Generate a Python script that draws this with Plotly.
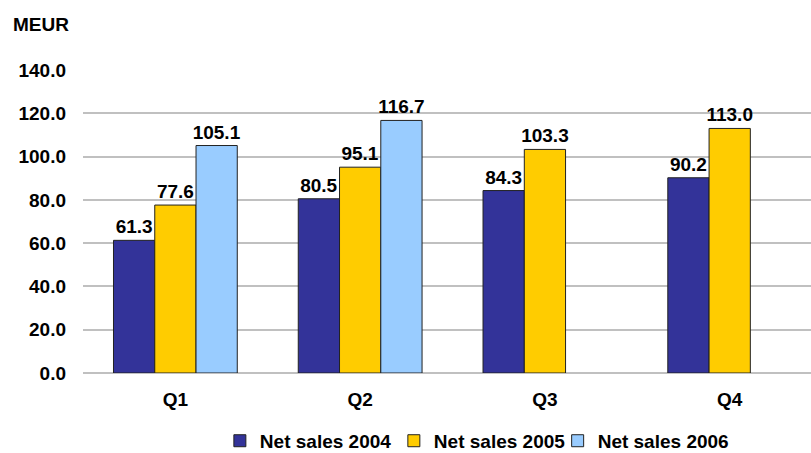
import plotly.graph_objects as go

quarters = ["Q1", "Q2", "Q3", "Q4"]
sales_2004 = [61.3, 80.5, 84.3, 90.2]
sales_2005 = [77.6, 95.1, 103.3, 113.0]
sales_2006 = [105.1, 116.7, None, None]
y_ticks = [0, 20, 40, 60, 80, 100, 120, 140]

series = [
    ("Net sales 2004", sales_2004, "#333399"),
    ("Net sales 2005", sales_2005, "#FFCC00"),
    ("Net sales 2006", sales_2006, "#99CCFF"),
]

FONT = "Liberation Sans, Arial, sans-serif"
SIZE = 19

# one legend per series so the entries sit side by side at fixed spots
legend_ids = ["legend", "legend2", "legend3"]
legend_x = [0.188, 0.427, 0.652]

fig = go.Figure()
for (name, values, color), lid in zip(series, legend_ids):
    fig.add_trace(go.Bar(
        x=quarters,
        y=values,
        name=name,
        legend=lid,
        marker=dict(color=color, line=dict(color="#222222", width=1)),
        text=[f"{v:.1f}" if v is not None else "" for v in values],
        textposition="outside",
        constraintext="none",
        textfont=dict(family=FONT, size=SIZE, color="black", weight="bold"),
        cliponaxis=False,
    ))

legend_style = dict(
    orientation="h",
    xref="paper", yref="paper",
    xanchor="left",
    y=-0.224, yanchor="middle",
    font=dict(family=FONT, size=SIZE, color="black", weight="bold"),
    itemwidth=30,
    bgcolor="rgba(0,0,0,0)",
)
legends = {lid: dict(legend_style, x=lx) for lid, lx in zip(legend_ids, legend_x)}

fig.update_layout(
    width=811,
    height=453,
    margin=dict(l=83, r=0, t=70, b=80, autoexpand=False),
    paper_bgcolor="white",
    plot_bgcolor="white",
    barmode="group",
    bargap=0.33,
    bargroupgap=0,
    font=dict(family=FONT, size=SIZE, color="black", weight="bold"),
    showlegend=True,
    **legends,
    xaxis=dict(
        range=[-0.5, 3.44],
        showgrid=False,
        showline=False,
        ticks="",
        tickfont=dict(family=FONT, size=SIZE, weight="bold"),
        ticklabelstandoff=13,
    ),
    yaxis=dict(
        range=[0, 140],
        tickvals=y_ticks,
        ticktext=[f"{v:.1f}" for v in y_ticks],
        showgrid=True,
        gridcolor="#C0C0C0",
        gridwidth=2,
        zeroline=True,
        zerolinecolor="#C0C0C0",
        zerolinewidth=2,
        showline=False,
        ticks="",
        ticklabelstandoff=16,
        tickfont=dict(family=FONT, size=SIZE, weight="bold"),
    ),
    annotations=[dict(
        text="MEUR",
        xref="paper", yref="paper",
        x=0, y=1,
        xanchor="left", yanchor="bottom",
        xshift=-72, yshift=33,
        showarrow=False,
        font=dict(family=FONT, size=SIZE, color="black", weight="bold"),
    )],
)

fig.write_html("out.html")
